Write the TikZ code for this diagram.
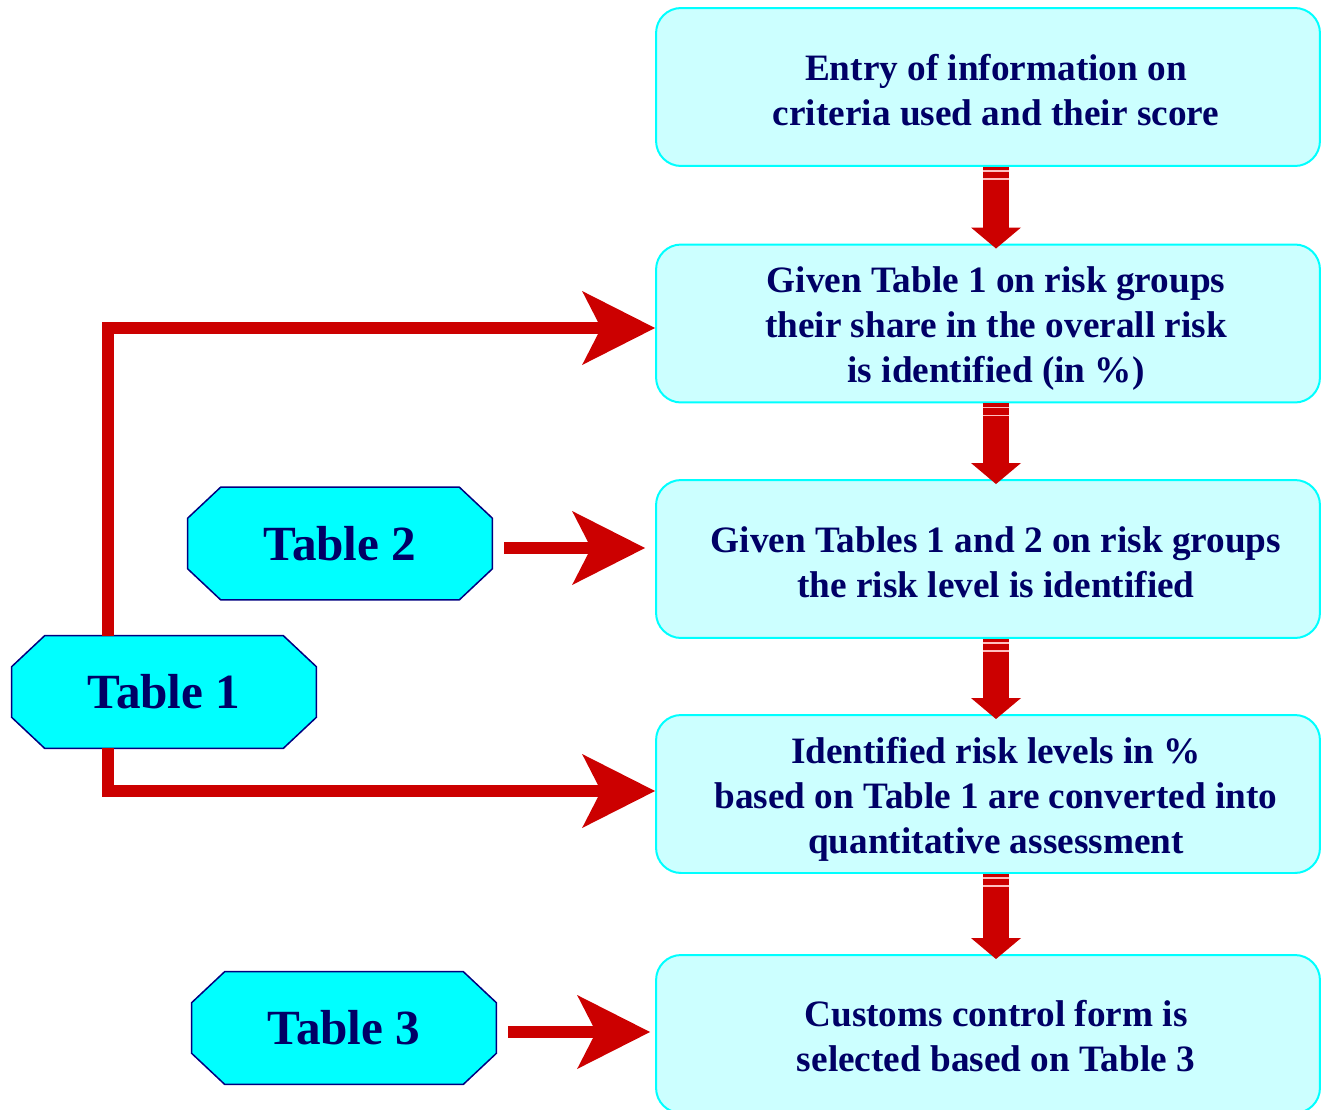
\documentclass[tikz,border=0pt]{standalone}
\usepackage{fontspec}
\setmainfont{Liberation Serif}
\usetikzlibrary{arrows.meta, backgrounds, positioning}

\definecolor{boxfill}{HTML}{CCFFFF}
\definecolor{boxline}{HTML}{00FFFF}
\definecolor{tabfill}{HTML}{00FFFF}
\definecolor{navy}{HTML}{000080}
\definecolor{inkblue}{HTML}{000066}
\definecolor{arrowred}{HTML}{CC0000}

\tikzset{
  stepbox/.style={draw=boxline, fill=boxfill, line width=0.04cm, rounded corners=0.5cm,
    minimum width=13.28cm, minimum height=3.16cm},
  steptext/.style={text=inkblue, font=\fontsize{21.2}{25.6}\selectfont\bfseries, align=center},
  tablebox/.style={rectangle, inner sep=0pt, minimum width=6.08cm, minimum height=2.24cm,
    text=inkblue, font=\fontsize{28}{32}\selectfont\bfseries},
  tableline/.style={draw=navy, fill=tabfill, line width=0.03cm, line join=miter},
  downarrow/.style={draw=arrowred, line width=0.52cm,
    -{Triangle[length=0.42cm, width=1.0cm, line width=0pt]}},
  sidearrow/.style={draw=arrowred, line width=0.23cm, line join=miter,
    -{Stealth[length=1.46cm, width=1.48cm, inset=0.38cm, line width=0pt]}},
  stripe/.style={draw=red!25!white, line width=0.025cm}
}

\begin{document}
\begin{tikzpicture}[x=0.02cm, y=-0.02cm]
  \useasboundingbox (0,0) rectangle (1321,1109);

  % steps on the right
  \node[stepbox] (s1) at (988,87) {};
  \node[steptext, xshift=0.16cm, yshift=-0.06cm] (s1t) at (s1.center) {Entry of information on\\criteria used and their score};
  \node[stepbox] (s2) at (988,323.5) {};
  \node[steptext, xshift=0.16cm, yshift=-0.1cm] (s2t) at (s2.center) {Given Table 1 on risk groups\\their share in the overall risk\\is identified (in \%)};
  \node[stepbox] (s3) at (988,559) {};
  \node[steptext, xshift=0.16cm, yshift=-0.06cm] (s3t) at (s3.center) {Given Tables 1 and 2 on risk groups\\the risk level is identified};
  \node[stepbox] (s4) at (988,794) {};
  \node[steptext, xshift=0.16cm, yshift=-0.1cm] (s4t) at (s4.center) {Identified risk levels in \%\\based on Table 1 are converted into\\quantitative assessment};
  \node[stepbox] (s5) at (988,1034) {};
  \node[steptext, xshift=0.16cm, yshift=-0.04cm] (s5t) at (s5.center) {Customs control form is\\selected based on Table 3};

  % tables on the left
  \node[tablebox] (t2) at (340,543.5) {Table 2};
  \node[tablebox] (t1) at (164,692) {Table 1};
  \node[tablebox] (t3) at (344,1028) {Table 3};
  \begin{scope}[on background layer]
    \foreach \t in {t1, t2, t3}
      \path[tableline] ([xshift=0.66cm]\t.north west) -- ([xshift=-0.66cm]\t.north east)
        -- ([yshift=-0.62cm]\t.north east) -- ([yshift=0.62cm]\t.south east)
        -- ([xshift=-0.66cm]\t.south east) -- ([xshift=0.66cm]\t.south west)
        -- ([yshift=0.62cm]\t.south west) -- ([yshift=-0.62cm]\t.north west) -- cycle;
  \end{scope}

  % arrows down between the steps
  \foreach \a/\b in {s1/s2, s2/s3, s3/s4, s4/s5} {
    \draw[downarrow, shorten >=-0.1cm] ([xshift=0.16cm]\a.south) -- ([xshift=0.16cm]\b.north);
    \foreach \d in {0.08, 0.24}
      \draw[stripe] ([xshift=-0.1cm, yshift=-\d cm]\a.south) -- ++(0.52cm,0);
  }

  % arrows from the tables
  \coordinate (up) at (108,328);
  \coordinate (dn) at (108,791);
  \draw[sidearrow] (t1.north -| up) -- (up) -- (s2.west |- up);
  \draw[sidearrow] (t1.south -| dn) -- (dn) -- (s4.west |- dn);
  \draw[sidearrow, shorten <=0.24cm, shorten >=0.2cm] (t2.east |- 0,548) -- (s3.west |- 0,548);
  \draw[sidearrow, shorten <=0.24cm, shorten >=0.1cm] (t3.east |- 0,1032) -- (s5.west |- 0,1032);
\end{tikzpicture}
\end{document}
